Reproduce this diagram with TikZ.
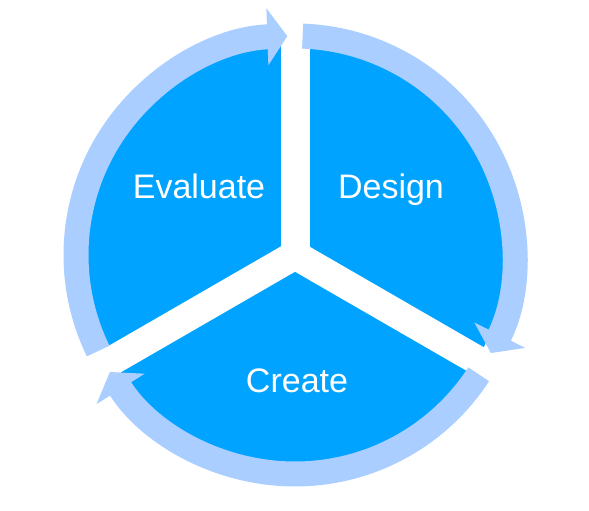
\documentclass[tikz,border=0pt]{standalone}
\usepackage{fontspec}
\setmainfont{Liberation Sans}
\usetikzlibrary{arrows.meta}
\definecolor{sectorblue}{RGB}{0,163,255}
\definecolor{ringblue}{RGB}{170,206,255}

\begin{document}
\begin{tikzpicture}[x=1pt,y=1pt,
  cycle arc/.style={ringblue,line width=25pt,-{Triangle[length=20pt,width=56pt]}},
  gap/.style={white,line width=29pt},
  phase text/.style={text=white,anchor=base,font=\fontsize{34}{40}\selectfont}]

  \useasboundingbox (0,0) rectangle (589,511);
  \coordinate (c) at (295,256);

  % disc cut into three sectors
  \fill[sectorblue] (c) circle[radius=210];
  \foreach \a in {90,210,330}
    \draw[gap] (c) -- ++(\a:214);

  % arrows round the cycle
  \draw[cycle arc] ([shift={(206:219)}]c) arc[start angle=206,end angle=92,radius=219];
  \draw[cycle arc] ([shift={(88:219)}]c) arc[start angle=88,end angle=-26.6,radius=219];
  \draw[cycle arc] ([shift={(-33:219)}]c) arc[start angle=-33,end angle=-147.7,radius=219];

  \node[phase text] (evaluate) at (199,312) {Evaluate};
  \node[phase text] (design) at (391,312) {Design};
  \node[phase text] (create) at (297,118) {Create};
\end{tikzpicture}
\end{document}
